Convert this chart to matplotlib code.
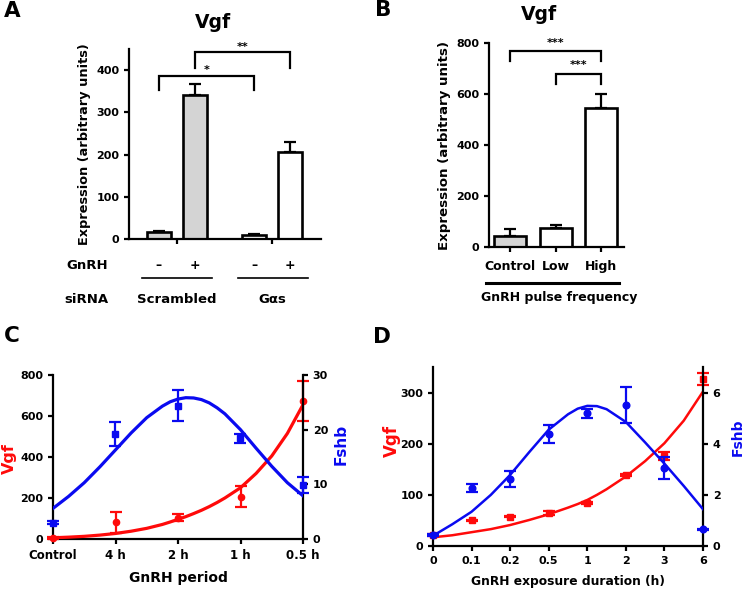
import matplotlib
matplotlib.use('Agg')
import matplotlib.pyplot as plt

plt.rcParams['font.family'] = ['DejaVu Sans']
plt.rcParams['font.weight'] = 'bold'
plt.rcParams['axes.labelweight'] = 'bold'

# ---------------- data ----------------
# Panel A
a_gnrh = ['\u2013', '+', '\u2013', '+']
a_sirna = ['Scrambled', 'G\u03b1s']
a_values = [17, 342, 9, 206]
a_errors = [2, 24, 2, 23]
a_yticks = [0, 100, 200, 300, 400]

# Panel B
b_categories = ['Control', 'Low', 'High']
b_values = [42, 74, 546]
b_errors = [27, 13, 54]
b_yticks = [0, 200, 400, 600, 800]

# Panel C
c_ticklabels = ['Control', '4 h', '2 h', '1 h', '0.5 h']
c_vgf = [6, 81, 104, 206, 673]
c_vgf_err = [4, 53, 16, 51, 98]
c_fshb = [3.0, 19.2, 24.4, 18.4, 9.9]
c_fshb_err = [0.3, 2.2, 2.9, 0.8, 1.4]
c_fit_x = [0, 0.25, 0.5, 0.75, 1.0, 1.25, 1.5, 1.75, 1.875, 2.0, 2.125, 2.25,
           2.375, 2.5, 2.625, 2.75, 3.0, 3.25, 3.5, 3.75, 4.0]
c_vgf_fit = [6, 9, 13, 19, 27, 38, 52, 71, 83, 96, 109, 124, 140, 158, 178,
             200, 250, 320, 405, 515, 655]
c_fshb_fit = [5.6, 7.8, 10.3, 13.2, 16.3, 19.4, 22.2, 24.3, 25.1, 25.6, 25.85,
              25.8, 25.5, 24.9, 24.0, 22.9, 20.0, 16.6, 13.3, 10.3, 7.9]

# Panel D
d_ticklabels = ['0', '0.1', '0.2', '0.5', '1', '2', '3', '6']
d_vgf = [21.5, 50, 57, 64, 85, 138, 176, 326]
d_vgf_err = [1, 1, 1, 4, 2, 2, 8, 12]
d_fshb = [0.43, 2.28, 2.62, 4.37, 5.19, 5.52, 3.04, 0.65]
d_fshb_err = [0.02, 0.16, 0.31, 0.35, 0.17, 0.7, 0.43, 0.02]
d_fit_x = [0, 0.5, 1, 1.5, 2, 2.5, 3, 3.5, 3.75, 4, 4.25, 4.5, 5, 5.5, 6,
           6.5, 7]
d_vgf_fit = [17, 21, 27, 33, 41, 51, 62, 75, 82, 90, 100, 111, 136, 166, 201,
             245, 302]
d_fshb_fit = [0.4, 0.85, 1.34, 2.0, 2.78, 3.68, 4.55, 5.15, 5.37, 5.48, 5.47,
              5.35, 4.85, 4.05, 3.22, 2.35, 1.44]

# ---------------- layout ----------------
W, H = 745, 596
fig = plt.figure(figsize=(W / 100, H / 100), dpi=100)

def rect(l, t, r, b):
    return [l / W, 1 - b / H, (r - l) / W, (b - t) / H]

def ftext(x, y, s, **kw):
    fig.text(x / W, 1 - y / H, s, ha='center', va='center', **kw)

RED = '#ff0a0a'
BLUE = '#0a0af0'
LW = 1.6

def style(ax):
    for sp in ['top', 'right']:
        ax.spines[sp].set_visible(False)
    for sp in ['left', 'bottom']:
        ax.spines[sp].set_linewidth(LW)
    ax.tick_params(width=LW, length=3.5, labelsize=8)
    for lab in ax.get_xticklabels() + ax.get_yticklabels():
        lab.set_fontweight('bold')

def style_right(ax):
    for sp in ['top', 'left', 'bottom']:
        ax.spines[sp].set_visible(False)
    ax.spines['right'].set_linewidth(LW)
    ax.tick_params(width=LW, length=3.5, labelsize=8)
    for lab in ax.get_yticklabels():
        lab.set_fontweight('bold')

def bracket(ax, x1, x2, y, ylo, label, ty):
    ax.plot([x1, x1, x2, x2], [ylo, y, y, ylo], color='black', lw=1.6,
            clip_on=False, solid_joinstyle='miter')
    ax.text((x1 + x2) / 2, ty, label, ha='center', va='center', fontsize=8)

# ---------------- Panel A ----------------
axA = fig.add_axes(rect(129, 49, 321, 239))
a_pos = [0, 1, 2.64, 3.64]
a_fill = ['#d4d4d4', '#d4d4d4', 'white', 'white']
axA.bar(a_pos, a_values, width=0.67, color=a_fill, edgecolor='black',
        linewidth=1.9, zorder=2)
axA.errorbar(a_pos, a_values, yerr=[[0] * 4, a_errors], fmt='none',
             ecolor='black', elinewidth=1.6, capsize=4, capthick=1.6, zorder=1)
axA.set_xlim(-0.83, 4.5)
axA.set_ylim(0, 450)
axA.set_yticks(a_yticks)
axA.set_xticks([0.5, 3.14])
axA.set_xticklabels([])
style(axA)
axA.set_ylabel('Expression (arbitrary units)', fontsize=9.3, labelpad=4)
bracket(axA, 0, 2.64, 386, 353, '*', 400)
bracket(axA, 1, 3.64, 442, 405, '**', 455)
tA = axA.get_xaxis_transform()
for x, s in zip(a_pos, a_gnrh):
    axA.text(x, -0.137, s, transform=tA, ha='center', va='center', fontsize=9)
axA.text(-2.0, -0.137, 'GnRH', transform=tA, ha='center', va='center',
         fontsize=9.5)
axA.text(-2.0, -0.316, 'siRNA', transform=tA, ha='center', va='center',
         fontsize=9.5)
for x, s in zip([0.5, 3.14], a_sirna):
    axA.text(x, -0.316, s, transform=tA, ha='center', va='center', fontsize=9.5)
axA.plot([-0.47, 1.47], [-0.205, -0.205], transform=tA, color='black', lw=1.2,
         clip_on=False)
axA.plot([2.19, 4.14], [-0.205, -0.205], transform=tA, color='black', lw=1.2,
         clip_on=False)
ftext(213, 23, 'Vgf', fontsize=13.5, fontweight='bold')
ftext(12, 11, 'A', fontsize=15.5, fontweight='bold')

# ---------------- Panel B ----------------
axB = fig.add_axes(rect(489, 43, 624, 247))
b_pos = [0, 1, 2]
b_fill = ['#d4d4d4', 'white', 'white']
axB.bar(b_pos, b_values, width=0.7, color=b_fill, edgecolor='black',
        linewidth=1.9, zorder=2)
axB.errorbar(b_pos, b_values, yerr=[[0] * 3, b_errors], fmt='none',
             ecolor='black', elinewidth=1.6, capsize=4, capthick=1.6, zorder=1)
axB.set_xlim(-0.46, 2.5)
axB.set_ylim(0, 800)
axB.set_yticks(b_yticks)
axB.set_xticks(b_pos)
axB.set_xticklabels(b_categories)
style(axB)
axB.tick_params(axis='x', labelsize=9, pad=6)
axB.set_ylabel('Expression (arbitrary units)', fontsize=9.6, labelpad=4)
bracket(axB, 0, 2, 770, 731, '***', 800)
bracket(axB, 1, 2, 678, 639, '***', 712)
tB = axB.get_xaxis_transform()
axB.plot([-0.53, 2.4], [-0.176, -0.176], transform=tB, color='black', lw=2.2,
         clip_on=False)
axB.text(1.08, -0.25, 'GnRH pulse frequency', transform=tB, ha='center',
         va='center', fontsize=9)
ftext(539, 14, 'Vgf', fontsize=13.5, fontweight='bold')
ftext(383, 10, 'B', fontsize=15.5, fontweight='bold')

# ---------------- Panel C ----------------
axC = fig.add_axes(rect(53, 375, 303, 539))
axC2 = axC.twinx()
axC.plot(c_fit_x, c_vgf_fit, color=RED, lw=2.3, zorder=3)
axC.errorbar(range(5), c_vgf, yerr=c_vgf_err, fmt='o', color=RED, ms=4.5,
             elinewidth=1.6, capsize=4, capthick=1.6, zorder=4, clip_on=False)
axC2.plot(c_fit_x, c_fshb_fit, color=BLUE, lw=2.3, zorder=3)
axC2.errorbar(range(5), c_fshb, yerr=c_fshb_err, fmt='s', color=BLUE, ms=4.5,
              elinewidth=1.6, capsize=4, capthick=1.6, zorder=4, clip_on=False)
axC.set_xlim(0, 4)
axC.set_ylim(0, 800)
axC2.set_ylim(0, 30)
axC.set_yticks([0, 200, 400, 600, 800])
axC2.set_yticks([0, 10, 20, 30])
axC.set_xticks(range(5))
axC.set_xticklabels(c_ticklabels)
style(axC)
style_right(axC2)
axC.tick_params(axis='x', pad=4, labelsize=8.5)
axC.set_xlabel('GnRH period', fontsize=10, labelpad=6)
ftext(9, 459, 'Vgf', fontsize=11.5, fontweight='bold', color=RED,
      rotation=90)
ftext(341, 444, 'Fshb', fontsize=11, fontweight='bold', color=BLUE,
      rotation=90)
ftext(12, 336, 'C', fontsize=15.5, fontweight='bold')

# ---------------- Panel D ----------------
axD = fig.add_axes(rect(433, 367, 703, 546))
axD2 = axD.twinx()
axD.plot(d_fit_x, d_vgf_fit, color=RED, lw=1.8, zorder=3)
axD.errorbar(range(8), d_vgf, yerr=d_vgf_err, fmt='s', color=RED, ms=5,
             elinewidth=1.6, capsize=4, capthick=1.6, zorder=4, clip_on=False)
axD2.plot(d_fit_x, d_fshb_fit, color=BLUE, lw=1.8, zorder=3)
axD2.errorbar(range(8), d_fshb, yerr=d_fshb_err, fmt='o', color=BLUE, ms=4.8,
              elinewidth=1.6, capsize=4, capthick=1.6, zorder=4, clip_on=False)
axD.set_xlim(0, 7)
axD.set_ylim(0, 350)
axD2.set_ylim(0, 7)
axD.set_yticks([0, 100, 200, 300])
axD2.set_yticks([0, 2, 4, 6])
axD.set_xticks(range(8))
axD.set_xticklabels(d_ticklabels)
style(axD)
style_right(axD2)
axD.tick_params(axis='x', pad=4)
axD.set_xlabel('GnRH exposure duration (h)', fontsize=8.8, labelpad=6)
ftext(392, 441, 'Vgf', fontsize=12, fontweight='bold', color=RED,
      rotation=90)
ftext(738, 437, 'Fshb', fontsize=10, fontweight='bold', color=BLUE,
      rotation=90)
ftext(382, 337, 'D', fontsize=15.5, fontweight='bold')

fig.savefig('out.png', dpi=100)
